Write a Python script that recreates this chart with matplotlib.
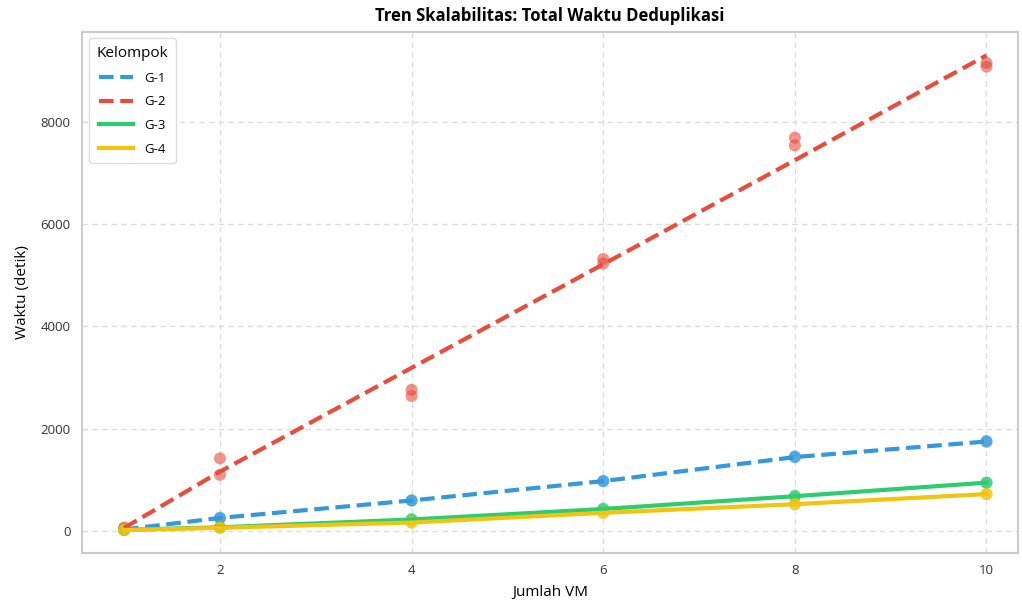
import matplotlib
matplotlib.use("Agg")
import matplotlib.pyplot as plt
import numpy as np

plt.rcParams['font.family'] = ['Open Sans', 'DejaVu Sans']

vm = [1, 2, 4, 6, 8, 10]
groups = ["G-1", "G-2", "G-3", "G-4"]
colors = ["#3498db", "#e74c3c", "#2ecc71", "#f1c40f"]
styles = ["--", "--", "-", "-"]

# two runs per group (scatter points)
run1 = {
    "G-1": [30, 260, 593, 970, 1460, 1741],
    "G-2": [20, 1100, 2640, 5230, 7540, 9080],
    "G-3": [20, 70, 230, 440, 690, 950],
    "G-4": [15, 60, 160, 350, 528, 724],
}
run2 = {
    "G-1": [35, 250, 600, 980, 1440, 1760],
    "G-2": [70, 1420, 2760, 5320, 7690, 9150],
    "G-3": [25, 75, 220, 420, 670, 940],
    "G-4": [20, 65, 170, 360, 520, 720],
}
# trend line values
trend = {
    "G-1": [30, 255, 597, 975, 1445, 1750],
    "G-2": [60, 1160, 3190, 5215, 7250, 9300],
    "G-3": [22, 72, 225, 430, 680, 945],
    "G-4": [18, 62, 165, 355, 524, 722],
}

fig = plt.figure(figsize=(10.22, 6.06), dpi=100)
ax = fig.add_axes([0.0802, 0.0875, 0.916, 0.86])

for g, c, ls in zip(groups, colors, styles):
    ax.scatter(vm, run1[g], s=75, color=c, alpha=0.6, edgecolors='none', zorder=3)
    ax.scatter(vm, run2[g], s=75, color=c, alpha=0.6, edgecolors='none', zorder=3)
    ax.plot(vm, trend[g], color=c, linestyle=ls, linewidth=3, label=g, zorder=4,
            dashes=(3.5, 1.6) if ls == "--" else (None, None))

ax.set_xlim(0.56, 10.33)
ax.set_ylim(-430, 9760)
ax.set_xticks([2, 4, 6, 8, 10])
ax.set_yticks([0, 2000, 4000, 6000, 8000])
ax.tick_params(axis='both', labelsize=9.5, length=0, pad=8, colors='#333333')
ax.grid(True, linestyle=(0, (4, 3)), color='#dddddd', linewidth=1)
ax.set_axisbelow(True)
for sp in ax.spines.values():
    sp.set_color('#cccccc')
    sp.set_linewidth(1.5)

ax.set_title("Tren Skalabilitas: Total Waktu Deduplikasi", fontsize=12, fontweight='bold', pad=8)
ax.set_xlabel("Jumlah VM", fontsize=11, labelpad=6)
ax.set_ylabel("Waktu (detik)", fontsize=11, labelpad=8)

leg = ax.legend(title="Kelompok", loc='upper left', fontsize=9.5, title_fontsize=11,
                frameon=True, fancybox=True, framealpha=1, edgecolor='#dddddd',
                handlelength=2.6, borderpad=0.6, labelspacing=0.8)

fig.savefig("out.png", dpi=100)
